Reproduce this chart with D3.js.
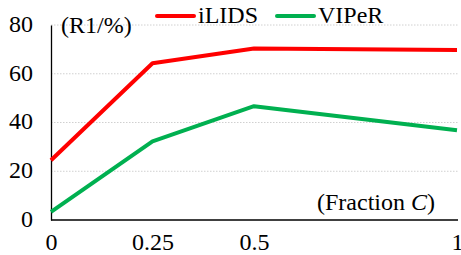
<!DOCTYPE html>
<html><head><meta charset="utf-8">
<script src="https://cdn.jsdelivr.net/npm/d3@7"></script>
<style>
body { margin: 0; background: #fff; }
</style>
</head><body>
<script>
const fractions = [0, 0.25, 0.5, 1];
const xTickLabels = ["0", "0.25", "0.5", "1"];
const yTicks = [0, 20, 40, 60, 80];
const seriesNames = ["iLIDS", "VIPeR"];
const seriesColors = ["#FF0000", "#00B050"];
const iLIDS = [24.5, 64.3, 70.4, 69.7];
const VIPeR = [3.3, 32.3, 46.7, 36.8];

const W = 461, H = 255;
const FF = '"Liberation Serif"';
const FS = 24;
const svg = d3.select("body").append("svg").attr("width", W).attr("height", H)
  .attr("font-family", "Liberation Serif").style("font-family", FF);
const x = d3.scaleLinear().domain([0, 1]).range([51, 457]);
const y = d3.scaleLinear().domain([0, 80]).range([220, 25]);

// gridlines
svg.append("g").selectAll("line").data(yTicks.filter(d => d > 0)).join("line")
  .attr("x1", x(0)).attr("x2", 458).attr("y1", d => y(d)).attr("y2", d => y(d))
  .attr("stroke", "#d0d0d0").attr("stroke-width", 1).attr("stroke-dasharray", "1.5,1.5");

// axes
const yAxis = d3.axisLeft(y).tickValues(yTicks).tickSize(0).tickPadding(18);
const gy = svg.append("g").attr("transform", `translate(${x(0)},0)`).call(yAxis)
  .attr("font-family", "Liberation Serif").attr("font-size", null);
gy.select(".domain").attr("stroke", "#000").attr("stroke-width", 1.3);
gy.selectAll("text").attr("font-family", "Liberation Serif").style("font-family", FF)
  .attr("font-size", FS).attr("fill", "#000").attr("dy", "0.27em");

const xAxis = d3.axisBottom(x).tickValues(fractions).tickFormat((d, i) => xTickLabels[i]).tickSize(0).tickPadding(13);
const gx = svg.append("g").attr("transform", `translate(0,${y(0)})`).call(xAxis)
  .attr("font-family", "Liberation Serif").attr("font-size", null);
gx.select(".domain").attr("stroke", "#000").attr("stroke-width", 1.3).attr("d", `M${x(0)},0H458`);
gx.selectAll("text").attr("font-family", "Liberation Serif").style("font-family", FF)
  .attr("font-size", FS).attr("fill", "#000");

// lines
const line = d3.line().x((d, i) => x(fractions[i])).y(d => y(d));
[iLIDS, VIPeR].forEach((s, k) => {
  svg.append("path").datum(s).attr("d", line).attr("fill", "none")
    .attr("stroke", seriesColors[k]).attr("stroke-width", 4).attr("stroke-linejoin", "round");
});

// labels
svg.append("text").attr("x", 61).attr("y", 33).attr("font-family", "Liberation Serif").style("font-family", FF).attr("font-size", FS).text("(R1/%)");
const fc = svg.append("text").attr("x", 317).attr("y", 210).attr("font-family", "Liberation Serif").style("font-family", FF).attr("font-size", FS);
fc.append("tspan").text("(Fraction ");
fc.append("tspan").style("font-style", "italic").text("C");
fc.append("tspan").text(")");

// legend
const legX = [157, 277];
seriesNames.forEach((n, k) => {
  svg.append("line").attr("x1", legX[k]).attr("x2", legX[k] + 37).attr("y1", 16).attr("y2", 16)
    .attr("stroke", seriesColors[k]).attr("stroke-width", 4).attr("stroke-linecap", "round");
  svg.append("text").attr("x", legX[k] + 41).attr("y", 23).attr("font-family", "Liberation Serif").style("font-family", FF).attr("font-size", FS).text(n);
});
</script>
</body></html>
